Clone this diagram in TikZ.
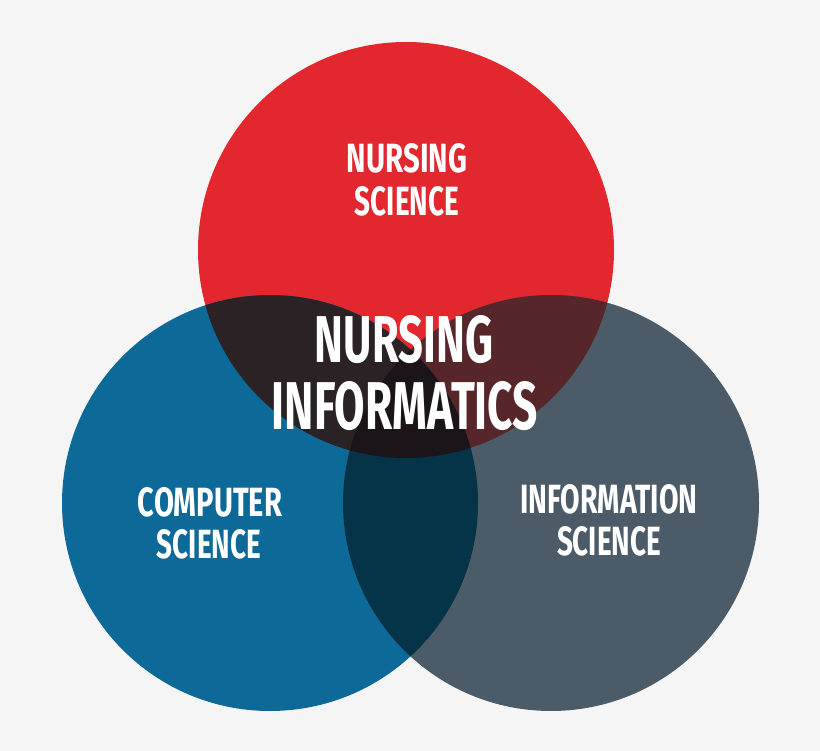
\documentclass[tikz,border=0pt]{standalone}
\usepackage{fontspec}
\setmainfont{Fira Sans}
\definecolor{bgc}{RGB}{245,245,245}
\definecolor{redc}{RGB}{226,40,46}
\definecolor{bluec}{RGB}{12,105,152}
\definecolor{grayc}{RGB}{75,91,104}
\definecolor{rbc}{RGB}{42,34,37}
\definecolor{rgc}{RGB}{86,38,42}
\definecolor{bgcc}{RGB}{5,51,72}
\definecolor{allc}{RGB}{27,20,24}
\newcommand{\lbl}[3]{\resizebox{#1pt}{#2pt}{\bfseries #3}}
\begin{document}
\begin{tikzpicture}[x=1pt,y=-1pt,
  txt/.style={text=white,inner sep=0pt,anchor=base}]
\useasboundingbox (0,0) rectangle (820,751);
\fill[bgc] (0,0) rectangle (820,751);
\def\R{208}
\coordinate (cr) at (406,250);
\coordinate (cb) at (270,503);
\coordinate (cg) at (551,503);
\fill[redc] (cr) circle (\R);
\fill[bluec] (cb) circle (\R);
\fill[grayc] (cg) circle (\R);
\begin{scope}
  \clip (cr) circle (\R);
  \fill[rbc] (cb) circle (\R);
  \fill[rgc] (cg) circle (\R);
\end{scope}
\begin{scope}
  \clip (cb) circle (\R);
  \fill[bgcc] (cg) circle (\R);
  \clip (cg) circle (\R);
  \fill[allc] (cr) circle (\R);
\end{scope}
\node[txt] (ns1) at (407,173) {\lbl{120}{29}{NURSING}};
\node[txt] (ns2) at (407,216) {\lbl{104}{29}{SCIENCE}};
\node[txt] (cs1) at (210,516) {\lbl{144}{29}{COMPUTER}};
\node[txt] (cs2) at (209,558) {\lbl{104}{29}{SCIENCE}};
\node[txt] (is1) at (609,513) {\lbl{177}{29}{INFORMATION}};
\node[txt] (is2) at (609,555) {\lbl{104}{29}{SCIENCE}};
\node[txt] (ni1) at (404,363) {\lbl{178}{47}{NURSING}};
\node[txt] (ni2) at (405,430) {\lbl{266}{48}{INFORMATICS}};
\end{tikzpicture}
\end{document}
